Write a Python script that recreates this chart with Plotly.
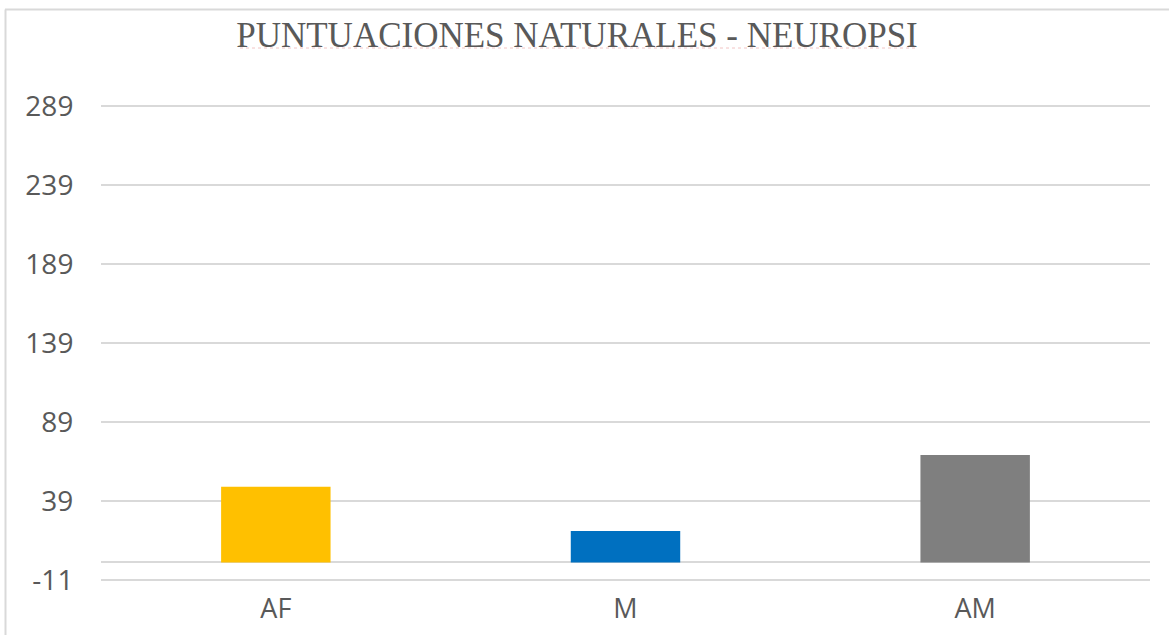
import plotly.graph_objects as go

categories = ["AF", "M", "AM"]
values = [48, 20, 68]
colors = ["#FFC000", "#0070C0", "#7F7F7F"]
tick_vals = [-11, 39, 89, 139, 189, 239, 289]
tick_text = ["-11", "39", "89", "139", "189", "239", "289"]
title_text = "PUNTUACIONES NATURALES - NEUROPSI"

fig = go.Figure(go.Bar(x=categories, y=values, marker=dict(color=colors, line=dict(width=0)), width=0.313))

W, H = 1169, 635
L, R, T, B = 101, 19, 103, 52
PW, PH = W - L - R, H - T - B

def px_x(p):
    return (p - L) / PW

def px_y(p):
    return 1 - (p - T) / PH

fig.update_layout(
    width=W, height=H,
    margin=dict(l=L, r=R, t=T, b=B, autoexpand=False),
    paper_bgcolor="white", plot_bgcolor="white",
    showlegend=False,
    title=dict(text=title_text, x=577/W, xref="container", xanchor="center",
               y=1-35/H, yref="container", yanchor="middle",
               font=dict(family="Liberation Serif", size=35, color="#595959")),
    xaxis=dict(showgrid=False, showline=False, ticks="outside", ticklen=2, tickcolor="rgba(0,0,0,0)",
               automargin=False,
               tickfont=dict(family="Open Sans", size=27, color="#595959"), range=[-0.5, 2.5]),
    yaxis=dict(range=[-13, 291], tickvals=tick_vals, ticktext=tick_text,
               showgrid=True, gridcolor="#D9D9D9", gridwidth=1.5,
               zeroline=True, zerolinecolor="#D9D9D9", zerolinewidth=1.5, showline=False,
               ticks="outside", ticklen=21, tickcolor="rgba(0,0,0,0)", automargin=False,
               tickfont=dict(family="Open Sans", size=28, color="#595959")),
)

# chart-area border (top and left)
fig.add_shape(type="line", xref="paper", yref="paper",
              x0=px_x(5), x1=px_x(W), y0=px_y(9.5), y1=px_y(9.5),
              line=dict(color="#D9D9D9", width=2))
fig.add_shape(type="line", xref="paper", yref="paper",
              x0=px_x(5.5), x1=px_x(5.5), y0=px_y(9.5), y1=px_y(H),
              line=dict(color="#D9D9D9", width=2))
# faint proofing underline under the title
fig.add_shape(type="line", xref="paper", yref="paper",
              x0=px_x(240), x1=px_x(915), y0=px_y(48), y1=px_y(48),
              line=dict(color="#F2C4C4", width=1, dash="dot"))

fig.write_html("out.html", config={"displayModeBar": False},
               post_script="document.body.style.margin='0';document.body.style.overflow='hidden';")
